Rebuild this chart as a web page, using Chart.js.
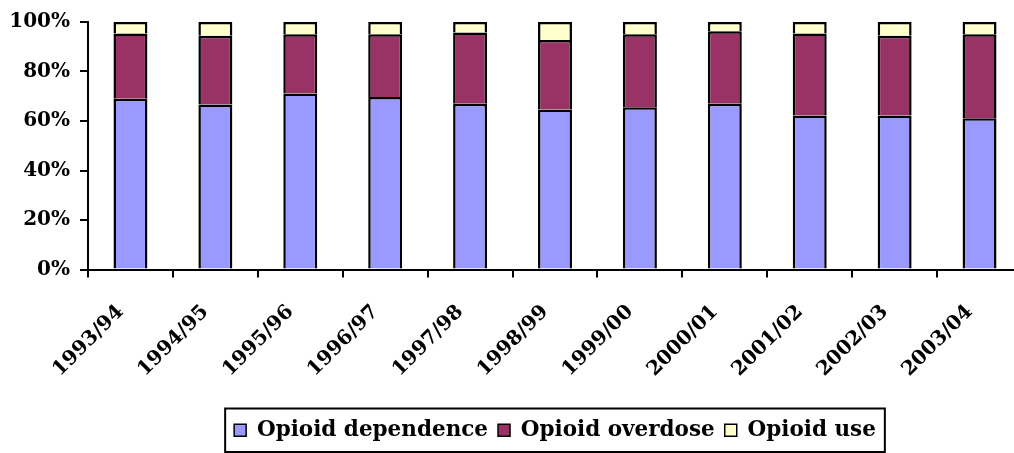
<!DOCTYPE html>
<html>
<head>
<meta charset="utf-8">
<script src="https://cdn.jsdelivr.net/npm/chart.js@4/dist/chart.umd.min.js"></script>
<style>
  html, body { margin: 0; padding: 0; background: #fff; overflow: hidden; }
  #wrap { width: 1030px; height: 453px; position: relative; }
</style>
</head>
<body>
<div id="wrap"><canvas id="c" width="1030" height="453"></canvas></div>
<script>
const categories = ['1993/94','1994/95','1995/96','1996/97','1997/98','1998/99','1999/00','2000/01','2001/02','2002/03','2003/04'];
const dependence = [69.0, 66.7, 71.1, 69.7, 67.0, 64.6, 65.6, 67.0, 62.2, 62.2, 61.1];
const overdose   = [26.4, 27.7, 24.0, 25.4, 28.8, 28.1, 29.5, 29.3, 33.2, 32.2, 34.0];
const use        = [4.6, 5.6, 4.9, 4.9, 4.2, 7.3, 4.9, 3.7, 4.6, 5.6, 4.9];
const yTicks = [0, 20, 40, 60, 80, 100];

const FONT = 'DejaVu Serif';

const legendBorder = {
  id: 'legendBorder',
  afterDraw(chart) {
    const lg = chart.legend;
    if (!lg || !lg.legendHitBoxes || !lg.legendHitBoxes.length) return;
    const hb = lg.legendHitBoxes;
    let l = Infinity, r = -Infinity, t = Infinity, b = -Infinity;
    hb.forEach(h => { l = Math.min(l, h.left); r = Math.max(r, h.left + h.width); t = Math.min(t, h.top); b = Math.max(b, h.top + h.height); });
    const ctx = chart.ctx;
    ctx.save();
    ctx.strokeStyle = '#000';
    ctx.lineWidth = 2;
    ctx.strokeRect(l - 9, t - 11, (r - l) + 18, (b - t) + 22);
    ctx.restore();
  }
};

const barStyle = { borderColor: '#000', borderWidth: 2.5, borderSkipped: 'start', categoryPercentage: 1.0, barPercentage: 0.4 };

new Chart(document.getElementById('c'), {
  type: 'bar',
  data: {
    labels: categories,
    datasets: [
      Object.assign({ label: 'Opioid dependence', data: dependence, backgroundColor: '#9999FF' }, barStyle),
      Object.assign({ label: 'Opioid overdose', data: overdose, backgroundColor: '#993366' }, barStyle),
      Object.assign({ label: 'Opioid use', data: use, backgroundColor: '#FFFFCC' }, barStyle)
    ]
  },
  options: {
    responsive: false,
    animation: false,
    layout: { padding: { top: 20, right: 8, bottom: 2, left: 0 } },
    plugins: {
      legend: {
        position: 'bottom',
        fullSize: false,
        labels: {
          font: { family: FONT, size: 21.5, weight: 'bold' },
          color: '#000',
          boxWidth: 12,
          boxHeight: 12,
          padding: 10,
          generateLabels(chart) {
            return chart.data.datasets.map((ds, i) => ({
              text: ds.label,
              fillStyle: ds.backgroundColor,
              strokeStyle: '#000',
              lineWidth: 1.5,
              hidden: false,
              datasetIndex: i,
              fontColor: '#000'
            }));
          }
        }
      },
      tooltip: { enabled: false }
    },
    scales: {
      x: {
        stacked: true,
        grid: { display: true, drawOnChartArea: false, drawTicks: true, tickLength: 8, color: '#000', lineWidth: 2, offset: true },
        border: { display: true, color: '#000', width: 2 },
        ticks: {
          color: '#000',
          font: { family: FONT, size: 20, weight: 'bold' },
          maxRotation: 45,
          minRotation: 45,
          autoSkip: false,
          padding: 13,
          callback(v, i) { return categories[i] + '  '; }
        },
        afterFit(scale) { scale.height = 140; }
      },
      y: {
        stacked: true,
        min: 0,
        max: 100,
        afterBuildTicks(scale) { scale.ticks = yTicks.map(v => ({ value: v })); },
        grid: { display: true, drawOnChartArea: false, drawTicks: true, tickLength: 8, color: '#000', lineWidth: 2 },
        border: { display: true, color: '#000', width: 2 },
        ticks: {
          color: '#000',
          font: { family: FONT, size: 20, weight: 'bold' },
          padding: 10,
          callback: v => v + '%'
        },
        afterFit(scale) { scale.width = 88; }
      }
    }
  },
  plugins: [legendBorder]
});
</script>
</body>
</html>
